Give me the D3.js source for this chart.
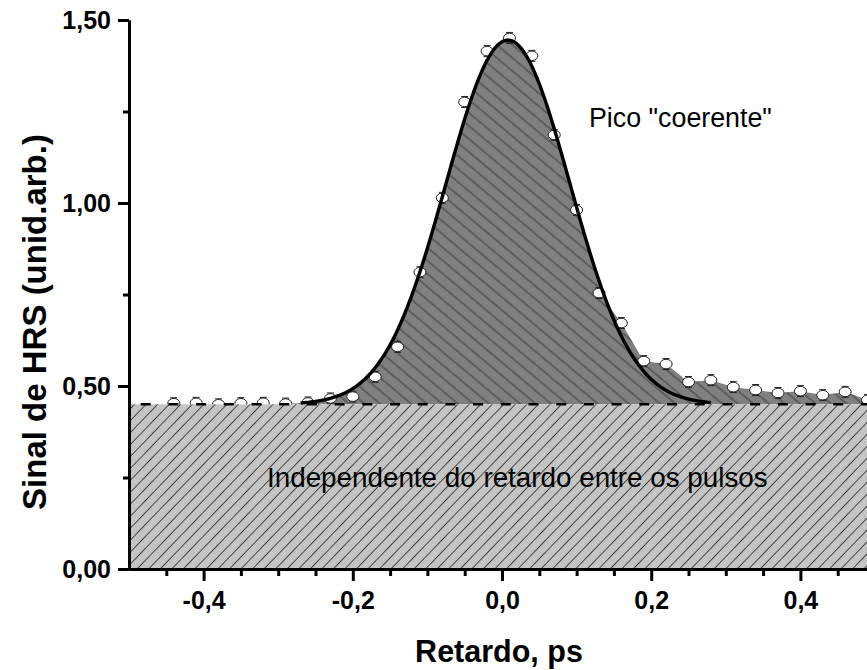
<!DOCTYPE html>
<html><head><meta charset="utf-8">
<script src="https://cdn.jsdelivr.net/npm/d3@7"></script>
<style>body{margin:0;background:#fff}svg{display:block}text{font-family:"Liberation Sans",Arial,sans-serif}</style>
</head><body><svg id="c" width="867" height="670"></svg>
<script>
// ---- data ----
const delays = [-0.44,-0.41,-0.38,-0.35,-0.32,-0.29,-0.26,-0.23,-0.20,-0.17,-0.14,-0.11,-0.08,-0.05,-0.02,0.01,0.04,0.07,0.10,0.13,0.16,0.19,0.22,0.25,0.28,0.31,0.34,0.37,0.40,0.43,0.46,0.49];
const signal = [0.453,0.454,0.450,0.453,0.454,0.452,0.455,0.466,0.471,0.525,0.607,0.811,1.014,1.276,1.415,1.451,1.402,1.186,0.981,0.754,0.672,0.568,0.560,0.511,0.516,0.497,0.489,0.481,0.486,0.475,0.484,0.462];
const baseline = 0.45;
const gaussFit = {amp: 0.995, center: 0.008, sigma: 0.083};
const fitRange = [-0.27, 0.28];
const xMajor = [-0.4,-0.2,0.0,0.2,0.4];
const xMinor = [-0.45,-0.35,-0.3,-0.25,-0.15,-0.1,-0.05,0.05,0.1,0.15,0.25,0.3,0.35,0.45];
const yMajor = [0.0,0.5,1.0,1.5];
const yMinor = [0.25,0.75,1.25];
const labels = {y:"Sinal de HRS (unid.arb.)", x:"Retardo, ps", peak:'Pico "coerente"', base:"Independente do retardo entre os pulsos"};

// ---- setup ----
const svg = d3.select("#c");
const x = d3.scaleLinear().domain([-0.5,0.5]).range([129,875]);
const y = d3.scaleLinear().domain([0,1.5]).range([569,20]);
const loc = d3.formatLocale({decimal:",",thousands:".",grouping:[3],currency:["",""],minus:"-"});
const fx = loc.format(".1f"), fy = loc.format(".2f");
const gauss = t => baseline + gaussFit.amp*Math.exp(-((t-gaussFit.center)**2)/(2*gaussFit.sigma**2));
const interp = d3.scaleLinear().domain(delays).range(signal).clamp(true);

const defs = svg.append("defs");
function hatch(id, bg, angle, gap){
  const p = defs.append("pattern").attr("id",id).attr("patternUnits","userSpaceOnUse")
    .attr("width",40).attr("height",gap).attr("patternTransform",`rotate(${angle})`);
  p.append("rect").attr("width",40).attr("height",gap).attr("fill",bg);
  p.append("line").attr("x1",0).attr("x2",40).attr("y1",gap/2).attr("y2",gap/2)
    .attr("stroke","#333").attr("stroke-width",0.9);
}
hatch("hLight","#c4c4c4",-46,8.3);
hatch("hDark","#808080",40,10);

// dark (coherent peak) region
const xs = d3.range(-0.32, 0.5001, 0.002);
const topVal = t => Math.max(gauss(t), t>=0.1 ? interp(t) : baseline);
svg.append("path")
  .attr("d", d3.area().x(d=>x(d)).y0(y(baseline)).y1(d=>y(topVal(d)))(xs))
  .attr("fill","url(#hDark)");

// data points
const pts = svg.append("g");
delays.forEach((d,i)=>{
  const cx = x(d), cy = y(signal[i]);
  pts.append("line").attr("x1",cx).attr("x2",cx).attr("y1",cy-5.5).attr("y2",cy+5.5).attr("stroke","#222").attr("stroke-width",1);
  pts.append("line").attr("x1",cx-3.5).attr("x2",cx+3.5).attr("y1",cy-5.5).attr("y2",cy-5.5).attr("stroke","#222").attr("stroke-width",1);
  pts.append("line").attr("x1",cx-3.5).attr("x2",cx+3.5).attr("y1",cy+5.5).attr("y2",cy+5.5).attr("stroke","#222").attr("stroke-width",1);
  pts.append("ellipse").attr("cx",cx).attr("cy",cy).attr("rx",6).attr("ry",4.8)
    .attr("fill","#fff").attr("stroke","#222").attr("stroke-width",1);
});

// light (delay independent) region
svg.append("rect").attr("x",x(-0.5)).attr("y",y(baseline))
  .attr("width",x(0.5)-x(-0.5)).attr("height",y(0)-y(baseline)).attr("fill","url(#hLight)");

// dashed baseline
svg.append("line").attr("x1",x(-0.5)).attr("x2",x(0.5)).attr("y1",y(baseline)).attr("y2",y(baseline))
  .attr("stroke","#000").attr("stroke-width",2.5).attr("stroke-dasharray","10,17.7").attr("stroke-dashoffset",16);

// gaussian fit
const fxs = d3.range(fitRange[0], fitRange[1]+1e-9, 0.002);
svg.append("path").attr("d", d3.line().x(d=>x(d)).y(d=>y(gauss(d)))(fxs))
  .attr("fill","none").attr("stroke","#000").attr("stroke-width",3.4).attr("stroke-linejoin","round");

// axes
function styleAxis(g){ g.selectAll("path,line").attr("stroke","#000").attr("stroke-width",3); g.selectAll("text").attr("font-family","Liberation Sans, Arial").attr("font-weight","bold").attr("font-size",25).attr("fill","#000"); }
svg.append("g").attr("transform",`translate(0,${y(0)})`)
  .call(d3.axisBottom(x).tickValues(xMinor).tickSize(7).tickSizeOuter(0).tickFormat(""))
  .call(styleAxis);
svg.append("g").attr("transform",`translate(0,${y(0)})`)
  .call(d3.axisBottom(x).tickValues(xMajor).tickSize(12).tickSizeOuter(0).tickFormat(fx).tickPadding(10))
  .call(styleAxis);
svg.append("g").attr("transform",`translate(${x(-0.5)},0)`)
  .call(d3.axisLeft(y).tickValues(yMinor).tickSize(6).tickSizeOuter(0).tickFormat(""))
  .call(styleAxis);
svg.append("g").attr("transform",`translate(${x(-0.5)},0)`)
  .call(d3.axisLeft(y).tickValues(yMajor).tickSize(11).tickSizeOuter(0).tickFormat(fy).tickPadding(7))
  .call(styleAxis);

// labels
svg.append("text").attr("transform","translate(46,322) rotate(-90)").attr("text-anchor","middle")
  .attr("font-weight","bold").attr("font-size",33).text(labels.y);
svg.append("text").attr("x",499).attr("y",662).attr("text-anchor","middle")
  .attr("font-weight","bold").attr("font-size",30.5).text(labels.x);
svg.append("text").attr("x",589).attr("y",127).attr("font-size",26.8).text(labels.peak);
svg.append("text").attr("x",267).attr("y",487).attr("font-size",27.8).text(labels.base);
</script></body></html>
